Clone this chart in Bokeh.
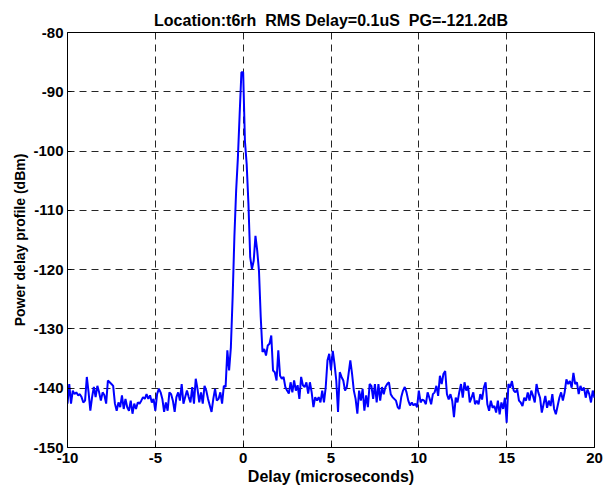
import numpy as np
from bokeh.plotting import figure
from bokeh.models import Range1d, FixedTicker, ColumnDataSource, CustomJSTickFormatter
from bokeh.embed import file_html
from bokeh.resources import INLINE

# Power delay profile samples, 0.1 us spacing from -10 us to 20 us
DELAY_START = -10.0
DELAY_STEP = 0.1

pdp_pre_noise_a = [  # -10.0 .. -5.0
    -142.6, -139.3, -142.6, -140.4, -141.0, -140.7, -141.2, -141.0, -141.5, -142.4,
    -142.1, -138.1, -140.7, -143.8, -141.5, -139.8, -141.5, -139.6, -140.7, -142.1,
    -140.7, -141.2, -142.6, -138.7, -139.0, -139.3, -139.6, -142.6, -143.8, -142.4,
    -143.2, -141.2, -143.5, -141.8, -143.2, -143.8, -142.1, -144.3, -142.6, -143.5,
    -142.4, -142.6, -142.1, -141.5, -141.8, -141.0, -141.8, -141.2, -142.4, -141.8,
    -143.8,
]
pdp_pre_noise_b = [  # -4.9 .. -1.0
    -141.0, -140.1, -140.7, -141.8, -144.0, -142.4, -143.8, -140.7, -141.0, -142.1,
    -144.0, -141.5, -140.7, -142.1, -139.3, -142.6, -141.5, -140.4, -141.5, -142.4,
    -139.8, -142.6, -138.4, -140.1, -142.4, -140.7, -142.6, -139.6, -140.4, -141.8,
    -142.9, -144.0, -141.8, -140.1, -142.1, -141.8, -140.7, -142.6, -139.6, -139.8,
]
pdp_main_peak = [  # -0.9 .. 1.0
    -133.6, -137.0, -133.1, -124.7, -114.5, -106.7, -101.1, -93.8, -86.7, -86.7,
    -98.3, -102.2, -108.9, -117.9, -119.9, -118.5, -114.3, -116.8, -120.2, -128.0,
]
pdp_tail = [  # 1.1 .. 4.7
    -133.9, -133.4, -134.5, -132.8, -132.5, -131.1, -137.0, -137.3, -138.7, -133.6,
    -137.9, -138.4, -138.1, -139.8, -140.4, -140.9, -139.0, -140.7, -138.7, -140.4,
    -139.5, -141.8, -138.1, -139.5, -139.8, -139.0, -140.9, -139.0, -140.7, -143.2,
    -141.5, -142.1, -141.5, -142.4, -140.4, -142.4, -139.8,
]
pdp_echo = [  # 4.8 .. 10.0
    -135.3, -134.2, -137.0, -133.7, -135.9, -138.7, -144.0, -137.3, -138.1, -138.7,
    -140.4, -139.8, -137.6, -135.3, -137.6, -140.4, -141.8, -144.3, -140.4, -142.1,
    -140.1, -143.8, -141.2, -143.2, -139.3, -139.6, -141.8, -139.3, -142.4, -139.3,
    -142.1, -139.8, -141.0, -139.8, -139.3, -139.0, -141.0, -141.5, -141.8, -142.1,
    -143.2, -143.5, -141.5, -140.4, -139.8, -140.7, -142.1, -142.9, -142.4, -142.9,
    -142.6, -143.2, -140.4,
]
pdp_late_a = [  # 10.1 .. 15.0
    -142.4, -141.9, -142.1, -142.7, -140.7, -141.6, -142.7, -141.0, -140.7, -139.6,
    -141.3, -137.9, -139.3, -137.6, -137.1, -141.0, -141.9, -141.0, -142.1, -144.9,
    -141.6, -142.4, -140.7, -139.3, -141.6, -139.0, -140.4, -139.6, -142.4, -141.6,
    -140.7, -142.7, -142.1, -142.7, -141.0, -141.9, -139.9, -139.0, -142.7, -143.8,
    -142.1, -143.3, -143.0, -144.1, -142.1, -144.4, -142.4, -143.5, -141.6, -145.8,
]
pdp_late_b = [  # 15.1 .. 20.0
    -139.3, -139.9, -138.8, -140.4, -140.7, -140.2, -142.1, -142.4, -143.0, -141.6,
    -142.1, -140.7, -142.1, -140.4, -141.3, -142.4, -139.3, -140.7, -141.6, -144.1,
    -142.7, -141.3, -143.3, -142.1, -143.0, -141.0, -143.5, -144.4, -143.0, -141.6,
    -140.7, -142.1, -140.7, -138.5, -139.3, -138.8, -139.9, -137.4, -139.3, -139.0,
    -141.0, -139.6, -140.4, -139.9, -141.6, -140.2, -141.0, -142.4, -140.4, -141.6,
]

x_ticks = [-10, -5, 0, 5, 10, 15, 20]
y_ticks = [-150, -140, -130, -120, -110, -100, -90, -80]
# two-space gaps kept with no-break spaces so SVG text does not collapse them
title_text = "Location:t6rh \u00a0RMS Delay=0.1uS \u00a0PG=-121.2dB"

power = (pdp_pre_noise_a + pdp_pre_noise_b + pdp_main_peak + pdp_tail
         + pdp_echo + pdp_late_a + pdp_late_b)
delay = np.round(DELAY_START + DELAY_STEP * np.arange(len(power)), 1)

src = ColumnDataSource(data=dict(delay=delay, power=power))

FONT = "Liberation Sans"

p = figure(width=616, height=487, output_backend="svg", toolbar_location=None,
           x_range=Range1d(x_ticks[0], x_ticks[-1]),
           y_range=Range1d(y_ticks[0], y_ticks[-1]),
           min_border_left=67, min_border_right=22,
           min_border_top=32, min_border_bottom=40,
           background_fill_color="white", border_fill_color="white")

p.title.text = title_text
p.title.align = "center"
p.title.text_font = FONT
p.title.text_font_size = "16px"
p.title.text_font_style = "bold"
p.title.text_color = "black"
p.title.offset = 0
p.title.standoff = 7

p.line("delay", "power", source=src, line_color="#0000ff", line_width=2)

p.outline_line_color = "black"
p.outline_line_width = 1
p.outline_line_alpha = 1

plain_minus = CustomJSTickFormatter(code="return String(tick);")

p.xaxis.ticker = FixedTicker(ticks=x_ticks)
p.yaxis.ticker = FixedTicker(ticks=y_ticks)
p.xaxis.formatter = plain_minus
p.yaxis.formatter = plain_minus
p.xaxis.axis_label = "Delay (microseconds)"
p.yaxis.axis_label = "Power delay profile (dBm)"

for ax in (p.xaxis, p.yaxis):
    ax.axis_label_text_font = FONT
    ax.axis_label_text_font_style = "bold"
    ax.axis_label_text_color = "black"
    ax.major_label_text_font = FONT
    ax.major_label_text_font_size = "15px"
    ax.major_label_text_font_style = "bold"
    ax.major_label_text_color = "black"
    ax.axis_line_color = "black"
    ax.major_tick_in = 4
    ax.major_tick_out = 0
    ax.minor_tick_line_color = None
    ax.major_tick_line_color = "black"

p.xaxis.axis_label_text_font_size = "16px"
p.yaxis.axis_label_text_font_size = "14px"
p.xaxis.major_label_standoff = 5
p.yaxis.major_label_standoff = 4
p.xaxis.axis_label_standoff = 2
p.yaxis.axis_label_standoff = 2

p.grid.grid_line_color = "black"
p.grid.grid_line_dash = "7 5"
p.grid.grid_line_width = 1
p.grid.grid_line_alpha = 0.85

open("out.html", "w").write(file_html(p, INLINE))
